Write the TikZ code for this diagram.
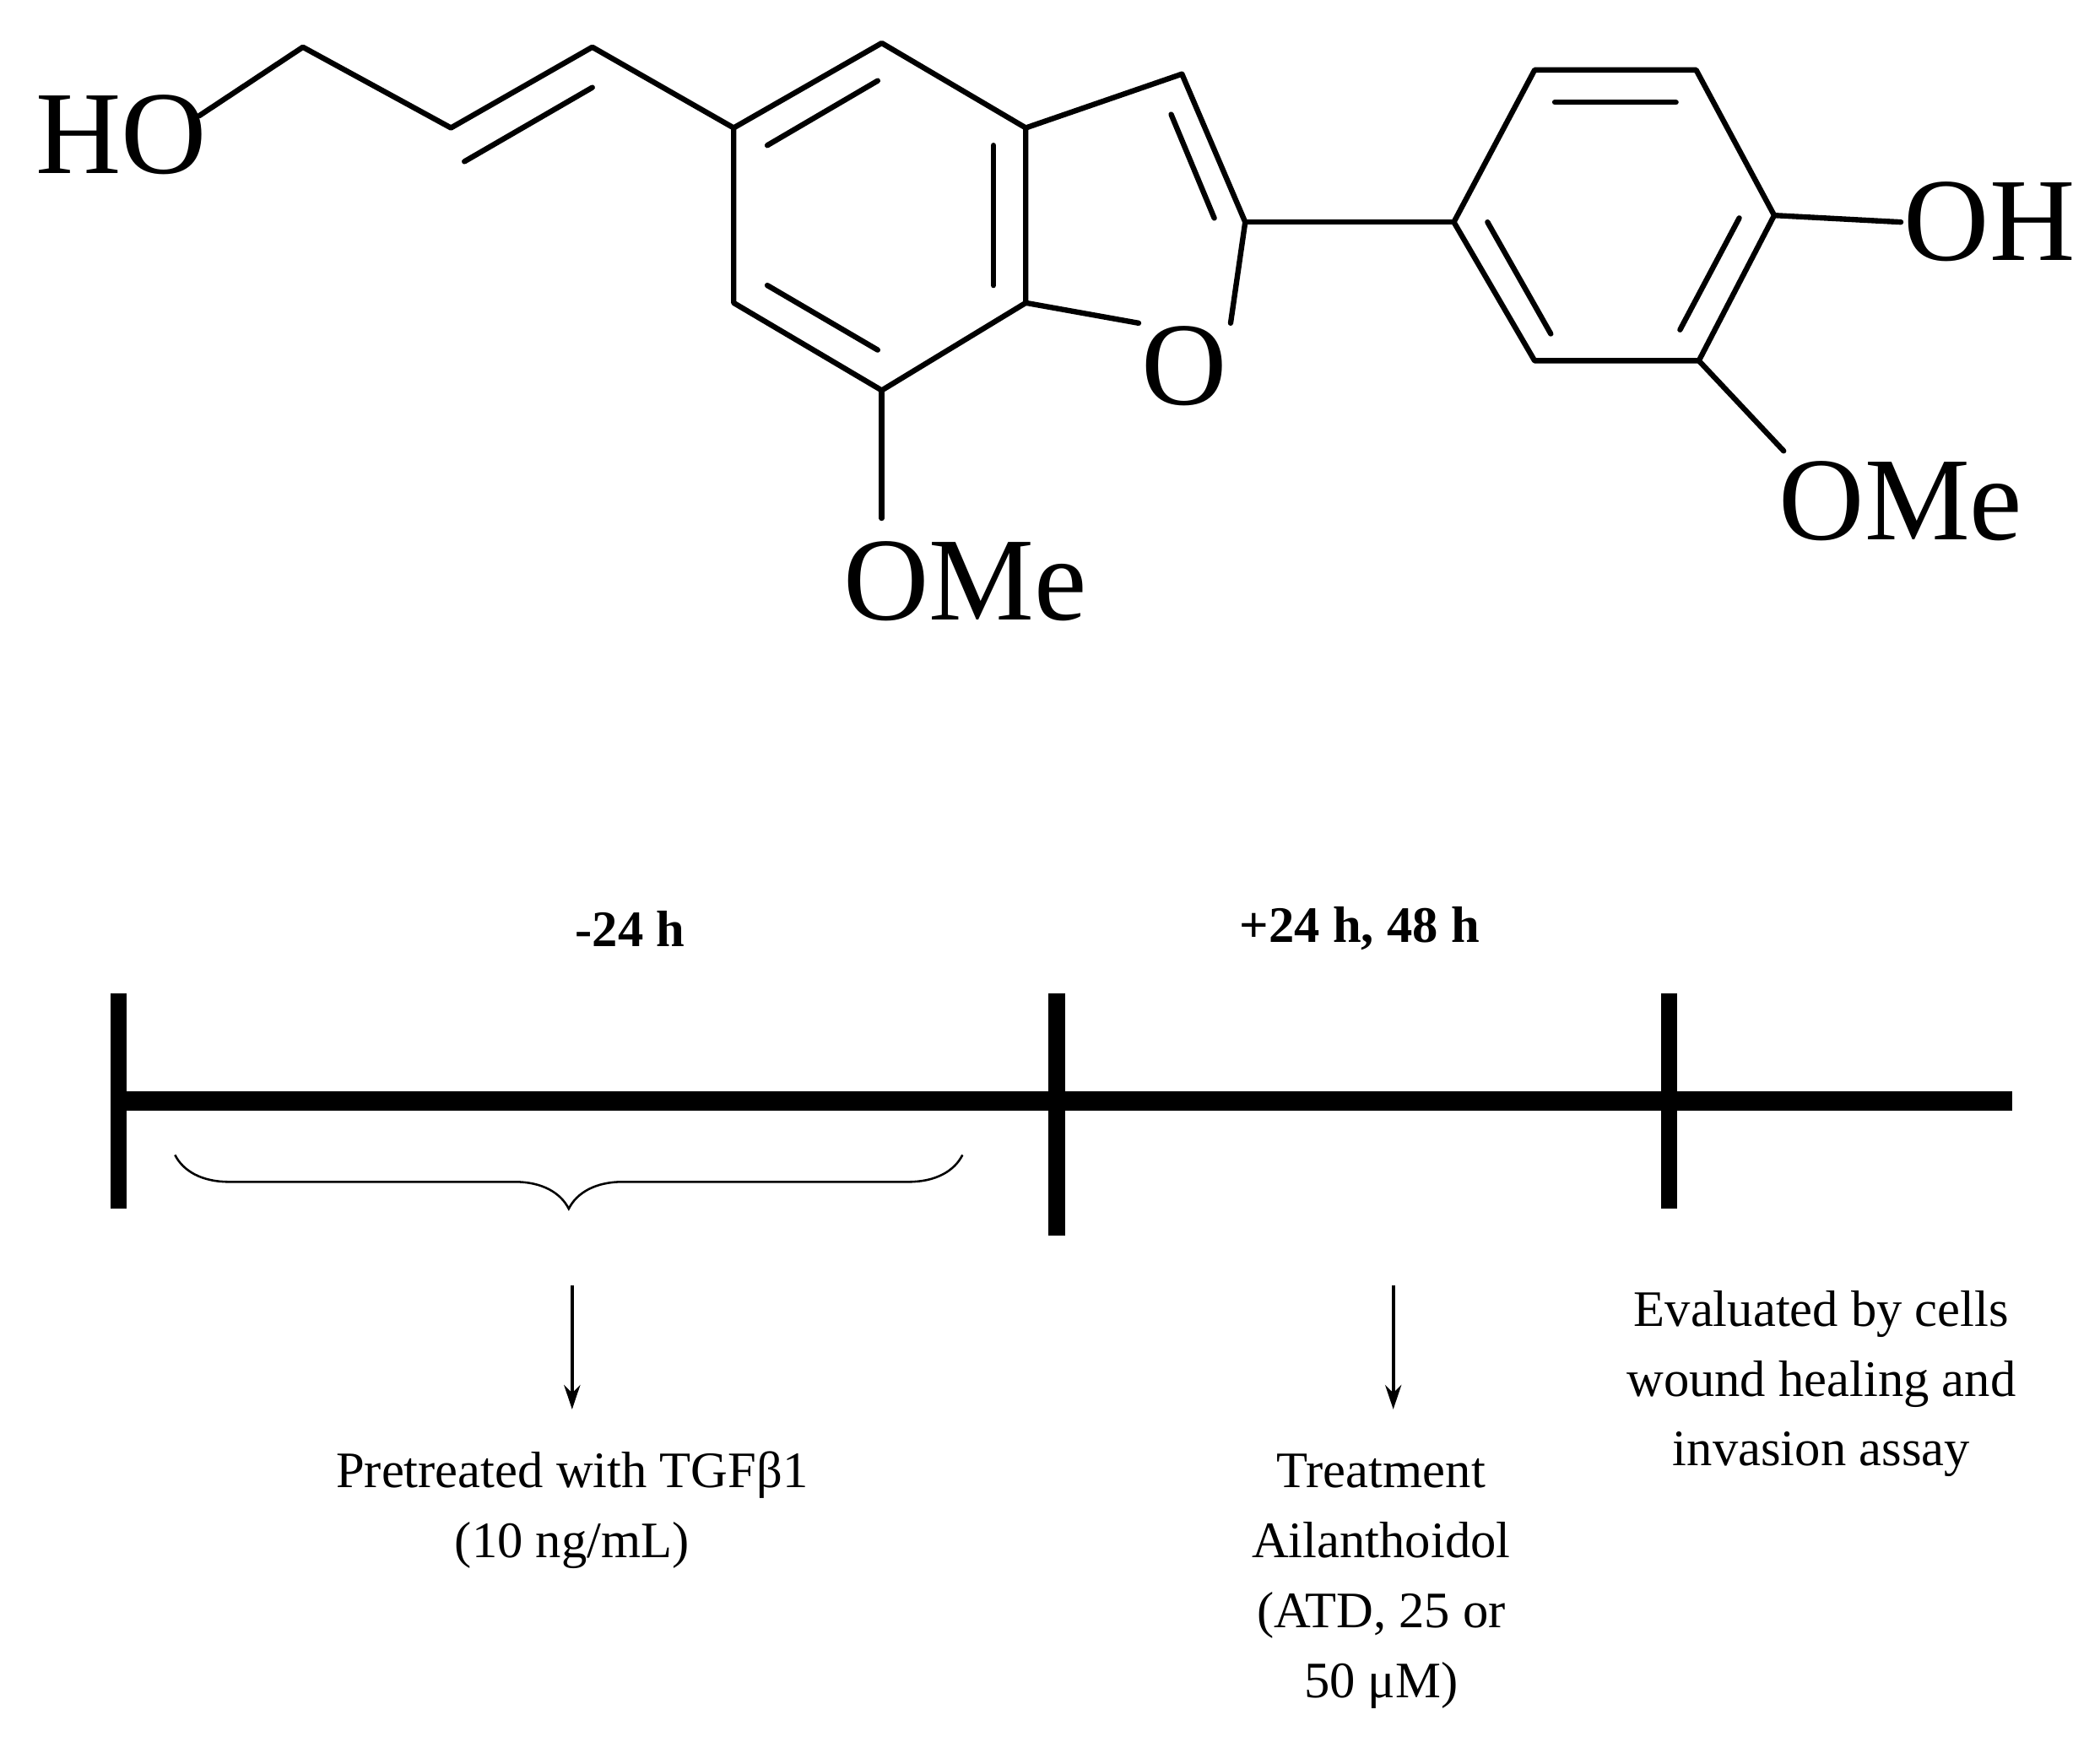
\documentclass[tikz,border=0pt]{standalone}
\usepackage{fontspec}
\setmainfont{Liberation Serif}
\usetikzlibrary{decorations.pathreplacing,arrows.meta}
\begin{document}
\begin{tikzpicture}[x=0.5pt,y=-0.5pt,
  bond/.style={line width=2pt,line cap=round,line join=round},
  atom/.style={font=\fontsize{44}{44}\selectfont,inner sep=1pt},
  tl/.style={line width=7pt},
  tick/.style={line width=6pt},
  lab/.style={font=\fontsize{19}{26}\selectfont,align=center},
  arr/.style={line width=1.3pt,-{Stealth[length=9pt,width=6pt]}}]
\useasboundingbox (0,0) rectangle (1560,1294);
% molecule
\node[atom] (ho) at (90,100) {HO};
\node[atom] (o1) at (880,272) {O};
\node[atom] (oh) at (1478,165) {OH};
\node[atom] (ome1) at (717,432) {OMe};
\node[atom] (ome2) at (1412,372) {OMe};
\coordinate (c1) at (225,35);
\coordinate (c2) at (335,95);
\coordinate (c3) at (440,35);
\coordinate (a1) at (545,95);
\coordinate (a2) at (655,32);
\coordinate (a3) at (762,95);
\coordinate (a4) at (762,225);
\coordinate (a5) at (655,290);
\coordinate (a6) at (545,225);
\coordinate (f1) at (878,55);
\coordinate (f2) at (925,165);
\coordinate (b1) at (1080,165);
\coordinate (b2) at (1140,52);
\coordinate (b3) at (1260,52);
\coordinate (b4) at (1318,160);
\coordinate (b5) at (1262,268);
\coordinate (b6) at (1140,268);
\draw[bond] (ho.north east)++(-8,18) -- (c1) -- (c2) -- (c3) -- (a1);
\draw[bond] (345,120) -- (440,65);
\draw[bond] (a1) -- (a2) -- (a3) -- (a4) -- (a5) -- (a6) -- cycle;
\draw[bond] (570,108) -- (652,60);
\draw[bond] (738,108) -- (738,212);
\draw[bond] (570,212) -- (652,260);
\draw[bond] (a3) -- (f1) -- (f2) -- (o1.north east);
\draw[bond] (o1.north west) -- (a4);
\draw[bond] (870,85) -- (902,162);
\draw[bond] (f2) -- (b1);
\draw[bond] (b1) -- (b2) -- (b3) -- (b4) -- (b5) -- (b6) -- cycle;
\draw[bond] (1155,76) -- (1245,76);
\draw[bond] (1292,162) -- (1248,245);
\draw[bond] (1105,165) -- (1152,248);
\draw[bond] (b4) -- (oh.west);
\draw[bond] (b5) -- (1325,335);
\draw[bond] (a5) -- (655,385);
% timeline
\coordinate (t0) at (88,818);
\coordinate (t1) at (1495,818);
\draw[tl] (t0) -- (t1);
\draw[tick] (88,738) -- (88,898);
\draw[tick] (785,738) -- (785,918);
\draw[tick] (1240,738) -- (1240,898);
\node[lab,font=\fontsize{19}{26}\selectfont\bfseries] (l1) at (468,690) {-24 h};
\node[lab,font=\fontsize{19}{26}\selectfont\bfseries] (l2) at (1010,690) {+24 h, 48 h};
\draw[line width=0.8pt,decorate,decoration={brace,mirror,amplitude=20pt}] (130,858) -- (715,858);
\coordinate (ar1s) at (425,955);
\coordinate (ar1e) at (425,1047);
\coordinate (ar2s) at (1035,955);
\coordinate (ar2e) at (1035,1047);
\draw[arr] (ar1s) -- (ar1e);
\draw[arr] (ar2s) -- (ar2e);
\node[lab] (p1) at (425,1122) {Pretreated with TGFβ1\\(10 ng/mL)};
\node[lab] (p2) at (1026,1175) {Treatment\\Ailanthoidol\\(ATD, 25 or\\50 μM)};
\node[lab] (p3) at (1353,1028) {Evaluated by cells\\wound healing and\\invasion assay};
\end{tikzpicture}
\end{document}
